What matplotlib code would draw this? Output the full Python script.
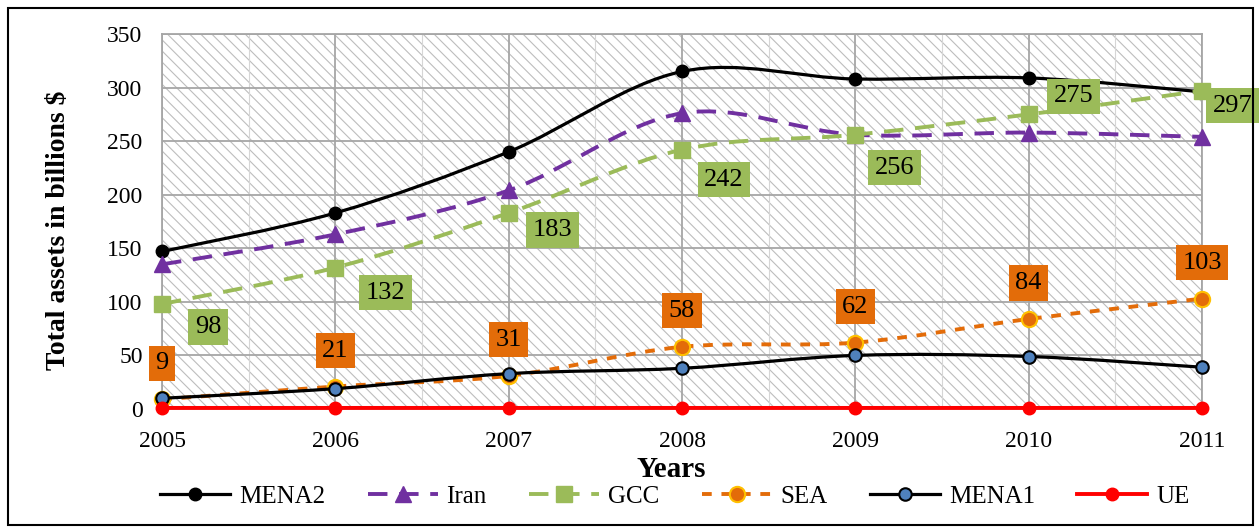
import numpy as np
import matplotlib
matplotlib.use("Agg")
import matplotlib.pyplot as plt
from matplotlib.path import Path
from matplotlib.patches import PathPatch, Rectangle
from matplotlib.lines import Line2D

plt.rcParams['font.family'] = ['Liberation Serif', 'DejaVu Serif']
plt.rcParams['hatch.linewidth'] = 0.8

# data
years = [2005, 2006, 2007, 2008, 2009, 2010, 2011]
mena2 = [147, 183, 240, 315, 308, 309, 296]
iran = [135, 163, 204, 276, 256, 258, 254]
gcc = [98, 132, 183, 242, 256, 275, 297]
sea = [9, 21, 31, 58, 62, 84, 103]
mena1 = [10, 19, 33, 38, 50, 49, 39]
ue = [1, 1, 1, 1, 1, 1, 1]
yticks = [0, 50, 100, 150, 200, 250, 300, 350]


def smooth_path(x, y):
    # excel style smoothed line: bezier segments through the points
    x = np.asarray(x, float)
    y = np.asarray(y, float)
    px = np.concatenate([[x[0]], x, [x[-1]]])
    py = np.concatenate([[y[0]], y, [y[-1]]])
    verts = [(x[0], y[0])]
    codes = [Path.MOVETO]
    for i in range(1, len(px) - 2):
        c1 = (px[i] + (px[i + 1] - px[i - 1]) / 6, py[i] + (py[i + 1] - py[i - 1]) / 6)
        c2 = (px[i + 1] - (px[i + 2] - px[i]) / 6, py[i + 1] - (py[i + 2] - py[i]) / 6)
        verts += [c1, c2, (px[i + 1], py[i + 1])]
        codes += [Path.CURVE4] * 3
    return Path(verts, codes)


fig = plt.figure(figsize=(12.59, 5.27), dpi=100)
ax = fig.add_axes([0.1287, 0.2239, 0.8260, 0.7116])

# hatched plot area
ax.add_patch(Rectangle((0, 0), 1, 1, transform=ax.transAxes, facecolor='white',
                       edgecolor='#BDBDBD', hatch='\\\\\\', lw=0, zorder=0))

series = [
    ('MENA2', mena2, dict(color='black', ls='-', lw=2.3),
     dict(marker='o', ms=9, mfc='black', mec='black')),
    ('Iran', iran, dict(color='#7030A0', ls=(0, (5, 3)), lw=2.8),
     dict(marker='^', ms=12, mfc='#7030A0', mec='#7030A0')),
    ('GCC', gcc, dict(color='#9BBB59', ls=(0, (5, 3)), lw=2.8),
     dict(marker='s', ms=11, mfc='#9BBB59', mec='#9BBB59')),
    ('SEA', sea, dict(color='#E36C09', ls=(0, (2.5, 2.5)), lw=2.8),
     dict(marker='o', ms=11, mfc='#E36C09', mec='#FFC000', mew=1.5)),
    ('MENA1', mena1, dict(color='black', ls='-', lw=2.3),
     dict(marker='o', ms=9, mfc='#4F81BD', mec='black', mew=1.5)),
    ('UE', ue, dict(color='#FF0000', ls='-', lw=2.8),
     dict(marker='o', ms=9, mfc='#FF0000', mec='#FF0000')),
]

handles = []
for z, (name, vals, lstyle, mstyle) in enumerate(series):
    ax.add_patch(PathPatch(smooth_path(years, vals), fill=False, edgecolor=lstyle['color'],
                           linestyle=lstyle['ls'], lw=lstyle['lw'], zorder=3 + z,
                           clip_on=False, capstyle='butt'))
    ax.plot(years, vals, ls='none', zorder=3.5 + z, clip_on=False, **mstyle)
    handles.append(Line2D([], [], color=lstyle['color'], ls=lstyle['ls'], lw=lstyle['lw'],
                          **mstyle))

# data labels
gcc_off = [(46, -23), (50, -25), (44, -17), (42, -30), (39, -33), (45, 18), (31, -15)]
for x, v, off in zip(years, gcc, gcc_off):
    ax.annotate(str(v), (x, v), xytext=off, textcoords='offset pixels', ha='center',
                va='center', fontsize=19, zorder=20, annotation_clip=False,
                bbox=dict(boxstyle='square,pad=0.25', fc='#9BBB59', ec='none'))
for x, v in zip(years, sea):
    ax.annotate(str(v), (x, v), xytext=(0, 36), textcoords='offset pixels', ha='center',
                va='center', fontsize=19, zorder=20, annotation_clip=False,
                bbox=dict(boxstyle='square,pad=0.25', fc='#E36C09', ec='none'))

ax.set_xlim(2005, 2011)
ax.set_ylim(0, 350)
ax.set_xticks(years)
ax.set_yticks(yticks)
ax.set_xticks(np.arange(2005.5, 2011, 1), minor=True)
ax.tick_params(which='both', length=0)
ax.tick_params(axis='x', pad=16, labelsize=17)
ax.tick_params(axis='y', pad=14, labelsize=17)
ax.grid(True, which='major', color='#A6A6A6', lw=1.3, zorder=1)
ax.grid(True, which='minor', axis='x', color='#D6D6D6', lw=0.8, zorder=1)
ax.set_axisbelow(True)
for s in ax.spines.values():
    s.set_color('#A6A6A6')
    s.set_linewidth(1.3)

ax.set_ylabel('Total assets in billions $', fontsize=20, fontweight='bold')
ax.yaxis.set_label_coords(-0.088, 0.477)
ax.set_xlabel('Years', fontsize=21, fontweight='bold')
ax.xaxis.set_label_coords(0.49, -0.125)

fig.legend(handles, [s[0] for s in series], loc='center', bbox_to_anchor=(0.536, 0.057),
           ncol=6, frameon=False, fontsize=18, handlelength=2.8, handletextpad=0.35,
           columnspacing=1.7)

fig.add_artist(Rectangle((0.006, 0.004), 0.989, 0.981, transform=fig.transFigure,
                         fill=False, edgecolor='black', lw=1.5))

fig.savefig('out.png', dpi=100)
